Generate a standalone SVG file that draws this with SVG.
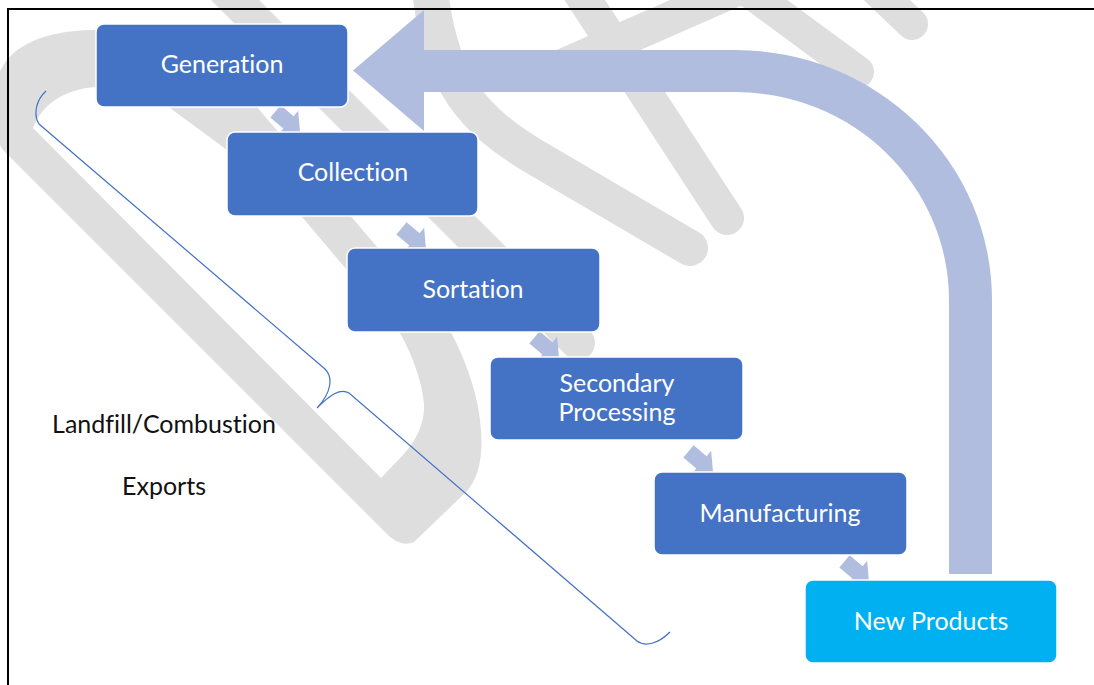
<svg xmlns="http://www.w3.org/2000/svg" width="1094" height="685" viewBox="0 0 1094 685">
  <style>
    .band { fill: none; stroke: #dedede; stroke-width: 36; stroke-linecap: round; }
    .loop { fill: #dedede; fill-rule: evenodd; }
    .box rect { fill: #4472c4; stroke: #ffffff; stroke-width: 1.5; }
    #newProducts rect { fill: #00b0f0; }
    text { font-family: Lato, "Liberation Sans", sans-serif; font-size: 25px; text-anchor: middle; font-variant-ligatures: none; font-feature-settings: "liga" 0, "clig" 0; }
    .lbl { fill: #ffffff; }
    .side { fill: #111111; }
    .step { fill: #b0bddf; }
    .frame { stroke: #000000; stroke-width: 2; fill: none; }
  </style>
  <defs>
    <!-- small block arrow, tip at origin, pointing along +x -->
    <path id="stepArrow" d="M0,0 L-15,-15 L-15,-8 L-32,-8 L-32,8 L-15,8 L-15,15 Z"/>
  </defs>

  <rect width="1094" height="685" fill="#ffffff"/>

  <!-- light grey background strokes -->
  <g id="backdrop">
    <path class="loop" d="M150,30 L92,30 C40,31 2,48 -4,85 C-8,115 -4,138 2,149 L386,533 Q400,548 414,542 L466,492 C479,478 483,456 481,430 C479,398 468,366 452,334 L268,120 L245,93 L200,30 Z
      M150,86 L96,87 C65,89 42,104 33,128 L381,478 L403,455 C417,440 425,422 424,404 C422,382 413,356 400,333 L303,218 L227,150 L170,108 L160,98 Z"/>
    <path class="band" d="M215,-20 L578,343" style="stroke-width:34"/>
    <path class="band" d="M430,-10 C440,80 470,120 540,160 L690,248"/>
    <path class="band" d="M575,-15 L727,218" style="stroke-width:34"/>
    <path class="band" d="M735,-10 L562,66" style="stroke-width:34"/>
    <path class="band" d="M740,-15 L858,72" style="stroke-width:32"/>
    <path class="band" d="M868,-18 L912,24" style="stroke-width:32"/>
  </g>

  <!-- connectors -->
  <g id="connectors">
    <path id="returnArrow" class="step" d="M353,70.5 L424,10 L424,50 L735,50 A257,250 0 0 1 992,300 L992,574 L949,574 L949,300 A214,208 0 0 0 735,92 L424,92 L424,131 Z"/>
    <path id="brace" d="M46,91 C36,100 33,115 39,124 L325,369 C333,377 332,392 317,408 C330,395 340,388 349,393 L637,641 C645,647 658,644 670,632" fill="none" stroke="#4472c4" stroke-width="1.2"/>
    <use href="#stepArrow" class="step" transform="translate(300,132) rotate(40)"/>
    <use href="#stepArrow" class="step" transform="translate(426,249) rotate(40)"/>
    <use href="#stepArrow" class="step" transform="translate(559,358) rotate(40)"/>
    <use href="#stepArrow" class="step" transform="translate(713,472) rotate(40)"/>
    <use href="#stepArrow" class="step" transform="translate(869,582) rotate(40)"/>
  </g>

  <!-- process steps -->
  <g id="generation" class="box">
    <rect x="96" y="24" width="252" height="83" rx="8"/>
    <text class="lbl" x="222" y="73">Generation</text>
  </g>
  <g id="collection" class="box">
    <rect x="227" y="132" width="251" height="84" rx="8"/>
    <text class="lbl" x="353" y="181">Collection</text>
  </g>
  <g id="sortation" class="box">
    <rect x="347" y="248" width="253" height="84" rx="8"/>
    <text class="lbl" x="473" y="298">Sortation</text>
  </g>
  <g id="secondaryProcessing" class="box">
    <rect x="490" y="357" width="253" height="83" rx="8"/>
    <text class="lbl" x="617" y="392">Secondary</text>
    <text class="lbl" x="617" y="421">Processing</text>
  </g>
  <g id="manufacturing" class="box">
    <rect x="654" y="472" width="253" height="83" rx="8"/>
    <text class="lbl" x="780" y="522">Manufacturing</text>
  </g>
  <g id="newProducts" class="box">
    <rect x="805" y="580" width="252" height="83" rx="8"/>
    <text class="lbl" x="931" y="630">New Products</text>
  </g>

  <!-- side labels -->
  <g id="sideLabels">
    <text class="side" x="164" y="433">Landfill/Combustion</text>
    <text class="side" x="164" y="495">Exports</text>
  </g>

  <!-- page frame -->
  <path class="frame" d="M7,9 L1094,9 M8,8 L8,685"/>
</svg>
